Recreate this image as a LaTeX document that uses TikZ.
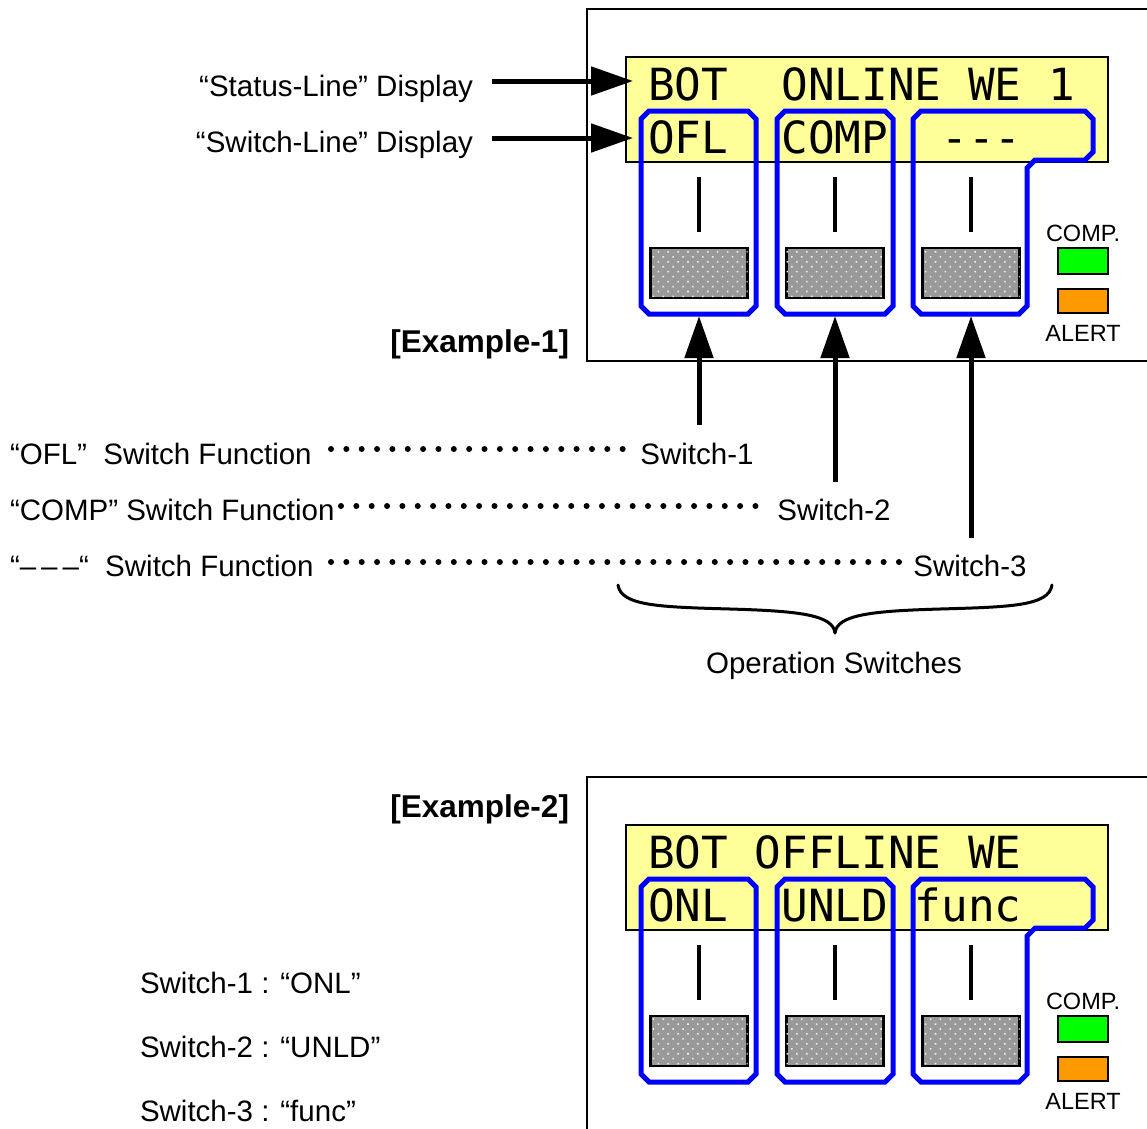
\documentclass[tikz,border=0pt]{standalone}
\usepackage{fontspec}
\setmainfont{Liberation Sans}
\newfontfamily\lcdfont{DejaVu Sans Mono}
\usetikzlibrary{arrows.meta,patterns.meta}
\definecolor{lcdyellow}{HTML}{FFFF99}
\definecolor{btngray}{HTML}{999999}
\definecolor{ledgreen}{HTML}{00FF00}
\definecolor{ledorange}{HTML}{FF9900}
\definecolor{selblue}{HTML}{0000FF}
\newcommand\selbox[4]{\draw[selline] (#1+8,#2) -- (#3-8,#2) -- (#3,#2+8) -- (#3,#4-8) -- (#3-8,#4) -- (#1+8,#4) -- (#1,#4-8) -- (#1,#2+8) -- cycle;}
\newcommand\drawpanel[5]{%
\begin{scope}[yshift=-#1pt]
\draw[panelframe] (587,9) rectangle (1170,#5);
\draw[lcdbox] (626,57) rectangle (1108,162);
\node[lcdtext] (#4status) at (648,100) {#2};
\node[lcdtext] (#4switch) at (648,153) {#3};
\foreach \x in {699,835,971}{
  \draw[slot] (\x,177) -- (\x,232);
  \draw[button] (\x-48.5,248) rectangle (\x+48.5,298);
}
\selbox{641}{111}{756}{314}
\selbox{777}{111}{893}{314}
\draw[selline] (921,111) -- (1085,111) -- (1093,119) -- (1093,152) -- (1085,160) -- (1035,160) -- (1027,168) -- (1027,306) -- (1019,314) -- (921,314) -- (913,306) -- (913,119) -- cycle;
\draw[led,fill=ledgreen] (1058,248) rectangle (1108,274);
\draw[led,fill=ledorange] (1058,289) rectangle (1108,313);
\node[smalltxt] (#4comp) at (1083,241) {COMP.};
\node[smalltxt] (#4alert) at (1083,341) {ALERT};
\end{scope}}
\begin{document}
\begin{tikzpicture}[x=1pt,y=-1pt,
  lbl/.style={font=\fontsize{29.5}{32}\selectfont, inner sep=0pt, outer sep=0pt, anchor=base west},
  lblr/.style={lbl, anchor=base east},
  lblc/.style={lbl, anchor=base},
  exlbl/.style={lblr, font=\bfseries\fontsize{31.5}{34}\selectfont},
  smalltxt/.style={font=\fontsize{23.5}{26}\selectfont, inner sep=0pt, anchor=base},
  lcdtext/.style={font=\lcdfont\fontsize{44.3}{46}\selectfont, inner sep=0pt, outer sep=0pt, anchor=base west},
  panelframe/.style={draw=black, line width=2.5pt},
  lcdbox/.style={draw=black, line width=2pt, fill=lcdyellow},
  slot/.style={line width=3.5pt},
  button/.style={draw=black, line width=2.5pt, fill=btngray,
     postaction={pattern={Dots[distance=7pt,angle=45,radius=1.1pt]}, pattern color=white!85!btngray}},
  selline/.style={draw=selblue, line width=5pt, line join=miter},
  led/.style={draw=black, line width=2pt},
  bigarrow/.style={line width=5pt, -{Triangle[length=42pt,width=28pt]}},
  dotrow/.style={line width=6pt, line cap=round, dash pattern=on 0pt off 15.35pt},
  brace/.style={line width=3pt, line cap=round}]
\clip (0,0) rectangle (1147,1128);
\useasboundingbox (0,0) rectangle (1147,1128);

% panels
\drawpanel{0}{BOT~~ONLINE~WE~1}{OFL~~COMP~~{-}{-}{-}}{a}{361}
\drawpanel{768}{BOT~OFFLINE~WE}{ONL~~UNLD~func}{b}{420}

% display labels and arrows
\node[lblr] (statuslbl) at (473,96) {“Status-Line” Display};
\node[lblr] (switchlbl) at (473,152) {“Switch-Line” Display};
\coordinate (statusfrom) at (492,81);
\coordinate (statustip) at (633,81);
\coordinate (switchfrom) at (492,138);
\coordinate (switchtip) at (633,138);
\draw[bigarrow] (statusfrom) -- (statustip);
\draw[bigarrow] (switchfrom) -- (switchtip);

\node[exlbl] (ex1) at (569,352) {[Example-1]};
\node[exlbl] (ex2) at (569,817) {[Example-2]};

% switch function labels
\node[lbl] (fofl) at (10,464) {“OFL”\ \ Switch Function};
\node[lbl] (fcomp) at (10,520) {“COMP” Switch Function};
\node[lbl] (fdash) at (10,576) {“–\hspace{5pt}–\hspace{5pt}–“\ \ Switch Function};
\node[lblc] (sw1) at (697,464) {Switch-1};
\node[lblc] (sw2) at (834,520) {Switch-2};
\node[lblc] (sw3) at (970,576) {Switch-3};

\coordinate (d1a) at (331,449); \coordinate (d1b) at (624,449);
\coordinate (d2a) at (341,506); \coordinate (d2b) at (764,506);
\coordinate (d3a) at (331,562); \coordinate (d3b) at (900,562);
\draw[dotrow] (d1a) -- (d1b);
\draw[dotrow] (d2a) -- (d2b);
\draw[dotrow] (d3a) -- (d3b);

% push arrows
\coordinate (t1) at (699,425); \coordinate (h1) at (699,316);
\coordinate (t2) at (835,482); \coordinate (h2) at (835,316);
\coordinate (t3) at (971,538); \coordinate (h3) at (971,316);
\draw[bigarrow] (t1) -- (h1);
\draw[bigarrow] (t2) -- (h2);
\draw[bigarrow] (t3) -- (h3);

% brace
\draw[brace] (618,585) .. controls (621,606) and (660,607) .. (730,609) .. controls (800,611) and (833,615) .. (835,633);
\draw[brace] (1052,585) .. controls (1049,606) and (1010,607) .. (940,609) .. controls (870,611) and (837,615) .. (835,633);
\node[lblc] (opsw) at (834,673) {Operation Switches};

% example 2 list
\node[lbl] (l1) at (140,993) {Switch-1 : “ONL”};
\node[lbl] (l2) at (140,1057) {Switch-2 : “UNLD”};
\node[lbl] (l3) at (140,1121) {Switch-3 : “func”};
\end{tikzpicture}
\end{document}
